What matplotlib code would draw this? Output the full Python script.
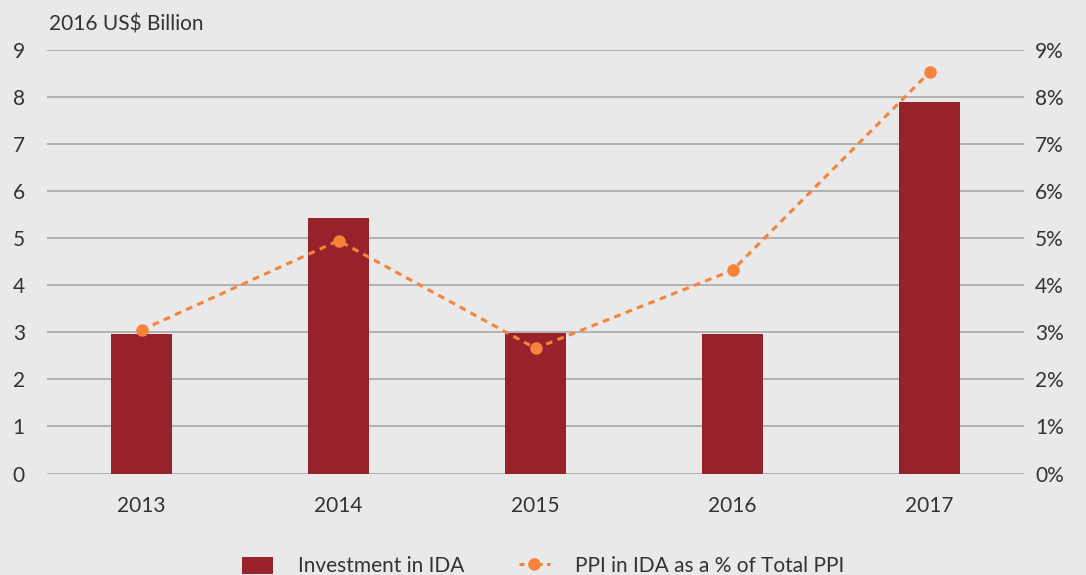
import matplotlib
matplotlib.use("Agg")
import matplotlib.pyplot as plt
from matplotlib.ticker import FuncFormatter
from matplotlib.lines import Line2D
import numpy as np

years = ["2013", "2014", "2015", "2016", "2017"]
investment = [2.96, 5.44, 2.98, 2.96, 7.90]
ppi_share = [3.05, 4.95, 2.66, 4.32, 8.53]
left_ticks = list(range(0, 10))
right_ticks = list(range(0, 10))

plt.rcParams['font.family'] = ['Lato', 'DejaVu Sans']
bg = '#e9e9e9'
txt = '#333333'
bar_color = '#98222c'
line_color = '#f5833a'
grid_color = '#a8a8a8'
fs = 15

fig = plt.figure(figsize=(10.86, 5.75), dpi=100, facecolor=bg)
ax = fig.add_axes([0.0433, 0.1765, 0.8997, 0.7365], facecolor=bg)
ax2 = ax.twinx()

x = np.arange(len(years))
bars = ax.bar(x, investment, width=0.31, color=bar_color, zorder=2,
              label='Investment in IDA')
ax.set_ylim(0, 9)
ax.set_yticks(left_ticks)
ax.set_xlim(-0.48, 4.48)
ax.set_xticks(x)
ax.set_xticklabels(years)
ax.yaxis.grid(True, color=grid_color, linewidth=1.2, zorder=0)
ax.set_axisbelow(True)

line, = ax2.plot(x, ppi_share, linestyle=(0, (2.2, 1.8)), color=line_color,
                 linewidth=2.2, marker='o', markersize=8, zorder=3,
                 label='PPI in IDA as a % of Total PPI')
ax2.set_ylim(0, 9)
ax2.set_yticks(right_ticks)
ax2.yaxis.set_major_formatter(FuncFormatter(lambda v, p: f"{int(v)}%"))

for a in (ax, ax2):
    for s in a.spines.values():
        s.set_visible(False)
    a.tick_params(length=0, labelsize=fs, colors=txt)

ax.tick_params(axis='y', pad=16)
ax2.tick_params(axis='y', pad=8)
ax.tick_params(axis='x', pad=16)

fig.text(0.045, 0.958, "2016 US$ Billion", fontsize=fs, color=txt,
         ha='left', va='center')

line_proxy = Line2D([], [], linestyle=(0, (1.6, 1.4)), color=line_color,
                    linewidth=2.2, marker='o', markersize=8)

leg = fig.legend([bars, line_proxy], ['Investment in IDA', 'PPI in IDA as a % of Total PPI'],
                 loc='center', bbox_to_anchor=(0.5, 0.015), ncol=2, frameon=False,
                 fontsize=fs, handlelength=1.5, handleheight=0.9,
                 columnspacing=2.6, handletextpad=1.2, labelcolor=txt)

fig.savefig("out.png", dpi=100, facecolor=bg)
